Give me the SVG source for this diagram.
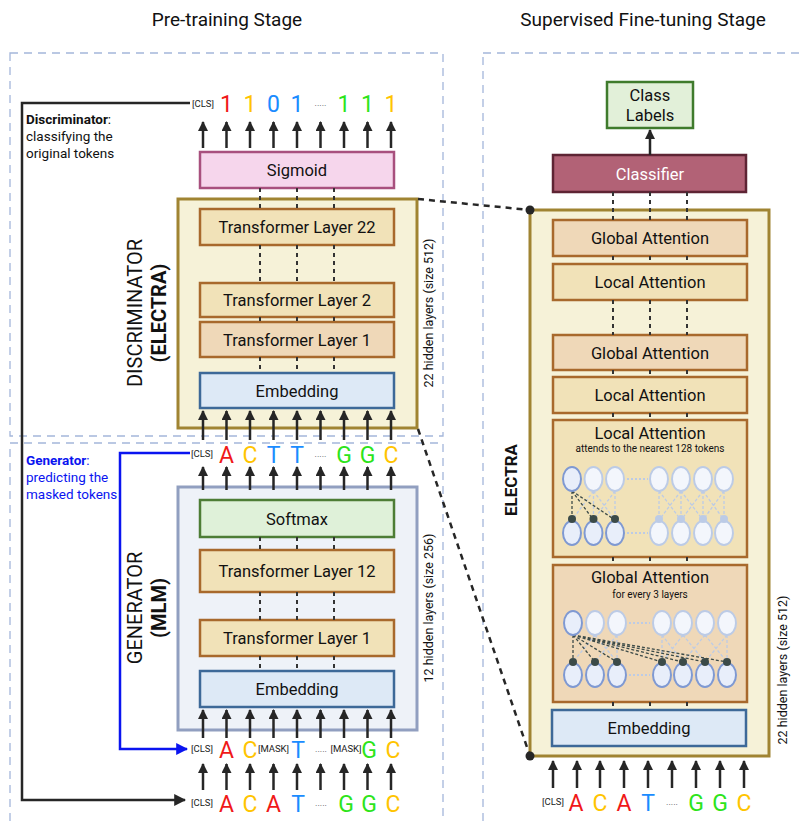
<svg xmlns="http://www.w3.org/2000/svg" width="802" height="822" viewBox="0 0 802 822">
<defs>
<marker id="ah" viewBox="0 0 10 10" refX="9" refY="5" markerWidth="10" markerHeight="10" markerUnits="userSpaceOnUse" orient="auto"><path d="M0,0 L10,5 L0,10 z" fill="#262626"/></marker>
<marker id="ahb" viewBox="0 0 10 10" refX="9" refY="5" markerWidth="12" markerHeight="12" markerUnits="userSpaceOnUse" orient="auto"><path d="M0,0 L10,5 L0,10 z" fill="#262626"/></marker>
<marker id="ahblue" viewBox="0 0 10 10" refX="9" refY="5" markerWidth="12" markerHeight="12" markerUnits="userSpaceOnUse" orient="auto"><path d="M0,0 L10,5 L0,10 z" fill="#0a14f0"/></marker>
<style>
text{font-family:Roboto,"Liberation Sans",Arial,sans-serif;fill:#111}
.title{font-size:19px;text-anchor:middle}
.lbl{font-size:16.5px;text-anchor:middle}
.tok{font-size:23px;text-anchor:middle}
.cls{font-size:9.5px;text-anchor:middle;fill:#222}
.side{font-size:13.5px}
.vt{font-size:20px;text-anchor:middle}
.vs{font-size:12.5px;text-anchor:middle}
.sub{font-size:10px;text-anchor:middle}
.panel{fill:none;stroke:#a4b6da;stroke-width:1.3;stroke-dasharray:8 6}
.outer{fill:#f6f2d8;stroke:#a08432;stroke-width:3}
.tl{fill:#f1e2b8;stroke:#a8692c;stroke-width:2.5}
.tl1{fill:#efd8b8;stroke:#a8692c;stroke-width:2.5}
.emb{fill:#dde9f6;stroke:#3d6998;stroke-width:2.5}
.arr line{stroke:#262626;stroke-width:2.5;fill:none;marker-end:url(#ah)}
.dsh{stroke:#333;stroke-width:2;stroke-dasharray:4 4;fill:none}
.r{fill:#f01818}.y{fill:#ffc400}.b{fill:#1a8cff}.g{fill:#2de41a}
.dots{font-size:9px;text-anchor:middle;fill:#555}
.nd{fill:#e8eefa;stroke:#7f99d2;stroke-width:2}
.nl{fill:#f3f6fc;stroke:#bccbe6;stroke-width:2}
.dk{fill:#3b4a48}
.lt{fill:#bccbe6}
.ldk{stroke:#3b4a48;stroke-width:1.3;stroke-dasharray:3 2;fill:none}
.llt{stroke:#bccbe6;stroke-width:1.3;stroke-dasharray:3 2;fill:none}
.sep{stroke:#bccbe6;stroke-width:2;stroke-dasharray:2 2}
</style>
</defs>
<rect width="802" height="822" fill="#fff"/>

<!-- titles -->
<text class="title" x="227" y="26">Pre-training Stage</text>
<text class="title" x="643" y="26">Supervised Fine-tuning Stage</text>

<!-- panels -->
<rect class="panel" x="10" y="53" width="433" height="383"/>
<rect class="panel" x="10" y="443" width="433" height="400"/>
<rect class="panel" x="483" y="53" width="340" height="800"/>

<!-- side labels -->
<g id="disc-label">
<text class="side" x="26" y="124"><tspan font-weight="bold">Discriminator</tspan>:</text>
<text class="side" x="26" y="141">classifying the</text>
<text class="side" x="26" y="158">original tokens</text>
</g>
<g id="gen-label">
<text class="side" x="26" y="465" style="fill:#0a14f0"><tspan font-weight="bold" style="fill:#0a14f0">Generator</tspan>:</text>
<text class="side" x="26" y="482" style="fill:#0a14f0">predicting the</text>
<text class="side" x="26" y="499" style="fill:#0a14f0">masked tokens</text>
</g>

<!-- Discriminator -->
<g id="discriminator">
<rect class="outer" x="178" y="199" width="239" height="229"/>
<text class="vt" transform="translate(142,313) rotate(-90)">DISCRIMINATOR</text>
<text class="vt" font-weight="bold" transform="translate(166,313) rotate(-90)">(ELECTRA)</text>
<text class="vs" transform="translate(433,313) rotate(-90)">22 hidden layers (size 512)</text>
</g>
<g id="sigmoid"><rect x="200" y="152" width="194" height="36" fill="#f6d6ec" stroke="#a8507e" stroke-width="2.5"/><text class="lbl" x="297" y="176">Sigmoid</text></g>
<g id="d-tl22"><rect class="tl" x="200" y="209" width="194" height="36"/><text class="lbl" x="297" y="233">Transformer Layer 22</text></g>
<g id="d-tl2"><rect class="tl" x="200" y="283" width="194" height="34"/><text class="lbl" x="297" y="306">Transformer Layer 2</text></g>
<g id="d-tl1"><rect class="tl1" x="200" y="322" width="194" height="35"/><text class="lbl" x="297" y="345.5">Transformer Layer 1</text></g>
<g id="d-emb"><rect class="emb" x="200" y="373" width="194" height="35"/><text class="lbl" x="297" y="396.5">Embedding</text></g>

<!-- disc output tokens -->
<g id="disc-out">
<text class="cls" x="203" y="107">[CLS]</text>
<text class="tok r" x="226.5" y="112">1</text>
<text class="tok y" x="250" y="112">1</text>
<text class="tok b" x="273.5" y="112">0</text>
<text class="tok b" x="297" y="112">1</text>
<text class="dots" x="320.5" y="106">.....</text>
<text class="tok g" x="344" y="112">1</text>
<text class="tok g" x="367.5" y="112">1</text>
<text class="tok y" x="391" y="112">1</text>
</g>

<!-- Generator -->
<g id="generator">
<rect x="178" y="487" width="239" height="243" fill="#eef2f8" stroke="#919fc0" stroke-width="3"/>
<text class="vt" transform="translate(142,608) rotate(-90)">GENERATOR</text>
<text class="vt" font-weight="bold" transform="translate(166,608) rotate(-90)">(MLM)</text>
<text class="vs" transform="translate(433,608) rotate(-90)">12 hidden layers (size 256)</text>
</g>
<g id="softmax"><rect x="200" y="500" width="194" height="37" fill="#dff1d9" stroke="#4d7d35" stroke-width="2.5"/><text class="lbl" x="297" y="524.5">Softmax</text></g>
<g id="g-tl12"><rect class="tl" x="200" y="550" width="194" height="42"/><text class="lbl" x="297" y="577">Transformer Layer 12</text></g>
<g id="g-tl1"><rect class="tl" x="200" y="620" width="194" height="36"/><text class="lbl" x="297" y="644">Transformer Layer 1</text></g>
<g id="g-emb"><rect class="emb" x="200" y="671" width="194" height="36"/><text class="lbl" x="297" y="695">Embedding</text></g>

<g id="gen-out">
<text class="cls" x="202" y="457">[CLS]</text>
<text class="tok r" x="226.5" y="463">A</text>
<text class="tok y" x="250" y="463">C</text>
<text class="tok b" x="273.5" y="463">T</text>
<text class="tok b" x="297" y="463">T</text>
<text class="dots" x="320.5" y="457">.....</text>
<text class="tok g" x="344" y="463">G</text>
<text class="tok g" x="367.5" y="463">G</text>
<text class="tok y" x="391" y="463">C</text>
</g>
<g id="masked-in">
<text class="cls" x="202" y="752">[CLS]</text>
<text class="tok r" x="226.5" y="758">A</text>
<text class="tok y" x="250" y="758">C</text>
<text class="cls" x="273.5" y="752">[MASK]</text>
<text class="tok b" x="298" y="758">T</text>
<text class="dots" x="321" y="752">.....</text>
<text class="cls" x="346" y="752">[MASK]</text>
<text class="tok g" x="369" y="758">G</text>
<text class="tok y" x="393" y="758">C</text>
</g>
<g id="orig-in">
<text class="cls" x="202" y="806">[CLS]</text>
<text class="tok r" x="226.5" y="812">A</text>
<text class="tok y" x="250" y="812">C</text>
<text class="tok r" x="273.5" y="812">A</text>
<text class="tok b" x="298" y="812">T</text>
<text class="dots" x="321" y="806">.....</text>
<text class="tok g" x="346" y="812">G</text>
<text class="tok g" x="369" y="812">G</text>
<text class="tok y" x="393" y="812">C</text>
</g>

<!-- Right side -->
<g id="class-labels"><rect x="607" y="82" width="86" height="46" fill="#e2f0d9" stroke="#3f7b2c" stroke-width="2.5"/><text class="lbl" x="650" y="101">Class</text><text class="lbl" x="650" y="121">Labels</text></g>
<g id="classifier"><rect x="553" y="155" width="193" height="37" fill="#b26276" stroke="#5e2434" stroke-width="2.5"/><text class="lbl" x="650" y="179.5" style="fill:#fff">Classifier</text></g>
<g id="electra">
<rect class="outer" x="530" y="210" width="239" height="546"/>
<text class="vt" font-weight="bold" style="font-size:17px" transform="translate(517,480) rotate(-90)">ELECTRA</text>
<text class="vs" transform="translate(787,670) rotate(-90)">22 hidden layers (size 512)</text>
</g>
<g id="ga1"><rect class="tl1" x="553" y="220" width="194" height="36"/><text class="lbl" x="650" y="244">Global Attention</text></g>
<g id="la1"><rect class="tl" x="553" y="264" width="194" height="36"/><text class="lbl" x="650" y="288">Local Attention</text></g>
<g id="ga2"><rect class="tl1" x="553" y="335" width="194" height="35"/><text class="lbl" x="650" y="358.5">Global Attention</text></g>
<g id="la2"><rect class="tl" x="553" y="377" width="194" height="36"/><text class="lbl" x="650" y="401">Local Attention</text></g>

<g id="la-detail">
<rect class="tl" x="553" y="420" width="194" height="137"/>
<text class="lbl" x="650" y="439">Local Attention</text>
<text class="sub" x="650" y="452">attends to the nearest 128 tokens</text>
<g>
<path class="llt" d="M593.5,491 L572,520 M593.5,491 L593.5,520 M593.5,491 L615,520 M615,491 L593.5,520 M615,491 L615,520 M659,491 L659,520 M659,491 L681,520 M681,491 L659,520 M681,491 L681,520 M681,491 L703,520 M703,491 L681,520 M703,491 L703,520 M703,491 L724,520 M724,491 L703,520 M724,491 L724,520"/>
<path class="ldk" d="M572,491 L572,520 M572,491 L593.5,520 M572,491 L615,520"/>
<line class="sep" x1="627" y1="479" x2="648" y2="479"/>
<line class="sep" x1="627" y1="533" x2="648" y2="533"/>
<ellipse class="nd" cx="572" cy="479" rx="9" ry="12"/>
<ellipse class="nl" cx="593.5" cy="479" rx="9" ry="12"/>
<ellipse class="nl" cx="615" cy="479" rx="9" ry="12"/>
<ellipse class="nl" cx="659" cy="479" rx="9" ry="12"/>
<ellipse class="nl" cx="681" cy="479" rx="9" ry="12"/>
<ellipse class="nl" cx="703" cy="479" rx="9" ry="12"/>
<ellipse class="nl" cx="724" cy="479" rx="9" ry="12"/>
<ellipse class="nd" cx="572" cy="533" rx="9" ry="12"/>
<ellipse class="nd" cx="593.5" cy="533" rx="9" ry="12"/>
<ellipse class="nd" cx="615" cy="533" rx="9" ry="12"/>
<ellipse class="nl" cx="659" cy="533" rx="9" ry="12"/>
<ellipse class="nl" cx="681" cy="533" rx="9" ry="12"/>
<ellipse class="nl" cx="703" cy="533" rx="9" ry="12"/>
<ellipse class="nl" cx="724" cy="533" rx="9" ry="12"/>
<circle class="dk" cx="572" cy="519" r="4"/><circle class="dk" cx="593.5" cy="519" r="4"/><circle class="dk" cx="615" cy="519" r="4"/>
<circle class="lt" cx="659" cy="519" r="4"/><circle class="lt" cx="681" cy="519" r="4"/><circle class="lt" cx="703" cy="519" r="4"/><circle class="lt" cx="724" cy="519" r="4"/>
</g>
</g>

<g id="ga-detail">
<rect class="tl1" x="553" y="565" width="194" height="137"/>
<text class="lbl" x="650" y="583">Global Attention</text>
<text class="sub" x="650" y="598">for every 3 layers</text>
<g>
<path class="llt" d="M595,635 L573,662 M595,635 L617,662 M617,635 L595,662 M617,635 L617,662 M662,635 L662,662 M662,635 L683,662 M683,635 L662,662 M683,635 L705,662 M705,635 L683,662 M705,635 L727,662 M727,635 L705,662 M727,635 L727,662"/>
<path class="ldk" d="M573,635 L573,662 M573,635 L595,662 M573,635 L617,662 M573,635 L662,662 M573,635 L683,662 M573,635 L705,662 M573,635 L727,662"/>
<line class="sep" x1="629" y1="623" x2="650" y2="623"/>
<line class="sep" x1="629" y1="675" x2="650" y2="675"/>
<ellipse class="nd" cx="573" cy="623" rx="9" ry="12"/>
<ellipse class="nl" cx="595" cy="623" rx="9" ry="12"/>
<ellipse class="nl" cx="617" cy="623" rx="9" ry="12"/>
<ellipse class="nl" cx="662" cy="623" rx="9" ry="12"/>
<ellipse class="nl" cx="683" cy="623" rx="9" ry="12"/>
<ellipse class="nl" cx="705" cy="623" rx="9" ry="12"/>
<ellipse class="nl" cx="727" cy="623" rx="9" ry="12"/>
<ellipse class="nd" cx="573" cy="675" rx="9" ry="12"/>
<ellipse class="nd" cx="595" cy="675" rx="9" ry="12"/>
<ellipse class="nd" cx="617" cy="675" rx="9" ry="12"/>
<ellipse class="nd" cx="662" cy="675" rx="9" ry="12"/>
<ellipse class="nd" cx="683" cy="675" rx="9" ry="12"/>
<ellipse class="nd" cx="705" cy="675" rx="9" ry="12"/>
<ellipse class="nd" cx="727" cy="675" rx="9" ry="12"/>
<circle class="dk" cx="573" cy="662" r="4"/><circle class="dk" cx="595" cy="662" r="4"/><circle class="dk" cx="617" cy="662" r="4"/>
<circle class="dk" cx="662" cy="662" r="4"/><circle class="dk" cx="683" cy="662" r="4"/><circle class="dk" cx="705" cy="662" r="4"/><circle class="dk" cx="727" cy="662" r="4"/>
</g>
</g>
<g id="r-emb"><rect class="emb" x="552" y="710" width="194" height="36"/><text class="lbl" x="649" y="734">Embedding</text></g>

<g id="ft-in">
<text class="cls" x="553" y="805">[CLS]</text>
<text class="tok r" x="576" y="811">A</text>
<text class="tok y" x="600" y="811">C</text>
<text class="tok r" x="624" y="811">A</text>
<text class="tok b" x="648" y="811">T</text>
<text class="dots" x="672" y="805">.....</text>
<text class="tok g" x="696" y="811">G</text>
<text class="tok g" x="720" y="811">G</text>
<text class="tok y" x="744" y="811">C</text>
</g>

<!-- connectors -->
<g id="connectors">
<g class="arr">
<line x1="203" y1="148" x2="203" y2="122"/><line x1="226.5" y1="148" x2="226.5" y2="122"/><line x1="250" y1="148" x2="250" y2="122"/><line x1="273.5" y1="148" x2="273.5" y2="122"/><line x1="297" y1="148" x2="297" y2="122"/><line x1="320.5" y1="148" x2="320.5" y2="122"/><line x1="344" y1="148" x2="344" y2="122"/><line x1="367.5" y1="148" x2="367.5" y2="122"/><line x1="391" y1="148" x2="391" y2="122"/>
<line x1="203" y1="440" x2="203" y2="411"/><line x1="226.5" y1="440" x2="226.5" y2="411"/><line x1="250" y1="440" x2="250" y2="411"/><line x1="273.5" y1="440" x2="273.5" y2="411"/><line x1="297" y1="440" x2="297" y2="411"/><line x1="320.5" y1="440" x2="320.5" y2="411"/><line x1="344" y1="440" x2="344" y2="411"/><line x1="367.5" y1="440" x2="367.5" y2="411"/><line x1="391" y1="440" x2="391" y2="411"/>
<line x1="203" y1="490" x2="203" y2="467"/><line x1="226.5" y1="490" x2="226.5" y2="467"/><line x1="250" y1="490" x2="250" y2="467"/><line x1="273.5" y1="490" x2="273.5" y2="467"/><line x1="297" y1="490" x2="297" y2="467"/><line x1="320.5" y1="490" x2="320.5" y2="467"/><line x1="344" y1="490" x2="344" y2="467"/><line x1="367.5" y1="490" x2="367.5" y2="467"/><line x1="391" y1="490" x2="391" y2="467"/>
<line x1="203" y1="738" x2="203" y2="710"/><line x1="226.5" y1="738" x2="226.5" y2="710"/><line x1="250" y1="738" x2="250" y2="710"/><line x1="273.5" y1="738" x2="273.5" y2="710"/><line x1="297" y1="738" x2="297" y2="710"/><line x1="320.5" y1="738" x2="320.5" y2="710"/><line x1="344" y1="738" x2="344" y2="710"/><line x1="367.5" y1="738" x2="367.5" y2="710"/><line x1="391" y1="738" x2="391" y2="710"/>
<line x1="203" y1="790" x2="203" y2="764"/><line x1="226.5" y1="790" x2="226.5" y2="764"/><line x1="250" y1="790" x2="250" y2="764"/><line x1="273.5" y1="790" x2="273.5" y2="764"/><line x1="297" y1="790" x2="297" y2="764"/><line x1="320.5" y1="790" x2="320.5" y2="764"/><line x1="344" y1="790" x2="344" y2="764"/><line x1="367.5" y1="790" x2="367.5" y2="764"/><line x1="391" y1="790" x2="391" y2="764"/>
<line x1="553" y1="788" x2="553" y2="761"/><line x1="577" y1="788" x2="577" y2="761"/><line x1="600" y1="788" x2="600" y2="761"/><line x1="624" y1="788" x2="624" y2="761"/><line x1="648" y1="788" x2="648" y2="761"/><line x1="672" y1="788" x2="672" y2="761"/><line x1="696" y1="788" x2="696" y2="761"/><line x1="720" y1="788" x2="720" y2="761"/><line x1="744" y1="788" x2="744" y2="761"/>
<line x1="650" y1="155" x2="650" y2="130"/>
</g>
<path class="dsh" d="M260,188V209 M297,188V209 M334,188V209 M260,245V283 M297,245V283 M334,245V283 M260,317V322 M297,317V322 M334,317V322 M260,357V373 M297,357V373 M334,357V373"/>
<path class="dsh" d="M260,537V550 M297,537V550 M334,537V550 M260,592V620 M297,592V620 M334,592V620 M260,656V671 M297,656V671 M334,656V671"/>
<path class="dsh" d="M613,192V220 M650,192V220 M687,192V220 M613,256V264 M650,256V264 M687,256V264 M613,300V335 M650,300V335 M687,300V335 M613,370V377 M650,370V377 M687,370V377 M613,413V420 M650,413V420 M687,413V420 M613,557V565 M650,557V565 M687,557V565 M613,702V710 M650,702V710 M687,702V710"/>
<path d="M190,103H22V800H185" fill="none" stroke="#262626" stroke-width="2.5" marker-end="url(#ahb)"/>
<path d="M190,453H120V749H187" fill="none" stroke="#0a14f0" stroke-width="2.5" marker-end="url(#ahblue)"/>
<path d="M418,199L530,210 M418,429L530,756" fill="none" stroke="#262626" stroke-width="2.5" stroke-dasharray="6 5"/>
<circle cx="530" cy="210" r="4.5" fill="#262626"/>
<circle cx="530" cy="756" r="4.5" fill="#262626"/>
</g>
</svg>
